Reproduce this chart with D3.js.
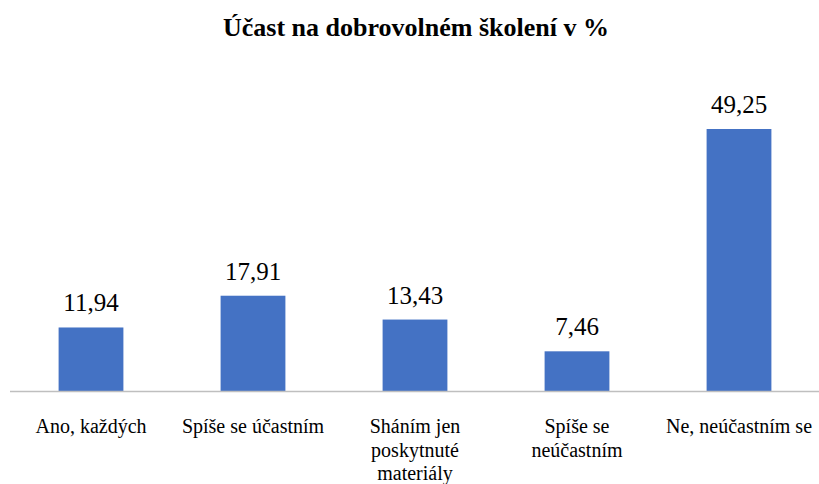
<!DOCTYPE html>
<html>
<head>
<meta charset="utf-8">
<script src="https://cdn.jsdelivr.net/npm/d3@7"></script>
<style>
  body { margin: 0; background: #fff; }
  svg { display: block; }
  svg text { font-family: "Liberation Serif", "Times New Roman", serif; fill: #000; }
</style>
</head>
<body>
<script>
const categories = ["Ano, každých", "Spíše se účastním", "Sháním jen poskytnuté materiály", "Spíše se neúčastním", "Ne, neúčastním se"];
const labelLines = [["Ano, každých"], ["Spíše se účastním"], ["Sháním jen", "poskytnuté", "materiály"], ["Spíše se", "neúčastním"], ["Ne, neúčastním se"]];
const values = [11.94, 17.91, 13.43, 7.46, 49.25];
const titleText = "Účast na dobrovolném školení v %";

const width = 819;
const height = 484;
const baseY = 391;

const svg = d3.select("body").append("svg")
    .attr("width", width)
    .attr("height", height);

svg.append("text")
    .attr("x", 416)
    .attr("y", 36)
    .attr("text-anchor", "middle")
    .attr("font-weight", "bold")
    .attr("font-size", 26)
    .text(titleText);

const xScale = d3.scaleBand()
    .domain(categories)
    .range([10, 820])
    .paddingInner(0.6)
    .paddingOuter(0.3);

const yScale = d3.scaleLinear()
    .domain([0, 49.25])
    .range([baseY, 129]);

svg.selectAll("rect.bar")
    .data(values)
    .enter()
    .append("rect")
    .attr("class", "bar")
    .attr("x", (d, i) => xScale(categories[i]))
    .attr("y", d => yScale(d))
    .attr("width", xScale.bandwidth())
    .attr("height", d => baseY - yScale(d))
    .attr("fill", "#4472C4");

// baseline
svg.append("line")
    .attr("x1", 10)
    .attr("x2", width)
    .attr("y1", baseY + 0.5)
    .attr("y2", baseY + 0.5)
    .attr("stroke", "#bfbfbf")
    .attr("stroke-width", 1.5);

svg.selectAll("text.value")
    .data(values)
    .enter()
    .append("text")
    .attr("class", "value")
    .attr("x", (d, i) => xScale(categories[i]) + xScale.bandwidth() / 2)
    .attr("y", d => yScale(d) - 16)
    .attr("text-anchor", "middle")
    .attr("font-size", 25)
    .text(d => d3.format(".2f")(d).replace(".", ","));

const labels = svg.selectAll("text.cat")
    .data(labelLines)
    .enter()
    .append("text")
    .attr("class", "cat")
    .attr("text-anchor", "middle")
    .attr("font-size", 20)
    .attr("x", (d, i) => xScale(categories[i]) + xScale.bandwidth() / 2)
    .attr("y", 433);

labels.selectAll("tspan")
    .data((d, i) => d.map(t => ({ t, i })))
    .enter()
    .append("tspan")
    .attr("x", d => xScale(categories[d.i]) + xScale.bandwidth() / 2)
    .attr("dy", (d, j) => j === 0 ? 0 : 23.5)
    .text(d => d.t);
</script>
</body>
</html>
